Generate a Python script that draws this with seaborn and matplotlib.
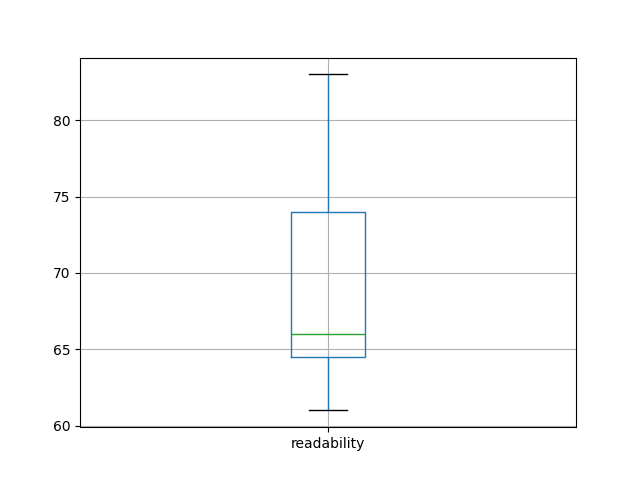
import matplotlib
matplotlib.use("Agg")
import matplotlib.pyplot as plt
import seaborn as sns
import pandas as pd

column = "readability"
readability = [61.0, 64.5, 66.0, 74.0, 83.0]
yticks = [60, 65, 70, 75, 80]

df = pd.DataFrame({column: readability})

fig, ax = plt.subplots(figsize=(6.4, 4.8), dpi=100)
sns.boxplot(
    data=df, ax=ax, fill=False, width=0.15, color="#1f77b4", linewidth=1.0,
    medianprops={"color": "#2ca02c"}, capprops={"color": "black"}, whis=1.5,
)
ax.set_xlim(-0.5, 0.5)
ax.set_ylim(59.9, 84.1)
ax.set_yticks(yticks)
ax.grid(True, color="#b0b0b0", linewidth=0.8)
ax.set_axisbelow("line")
ax.set_xlabel("")
ax.set_ylabel("")
fig.savefig("out.png", dpi=100)
